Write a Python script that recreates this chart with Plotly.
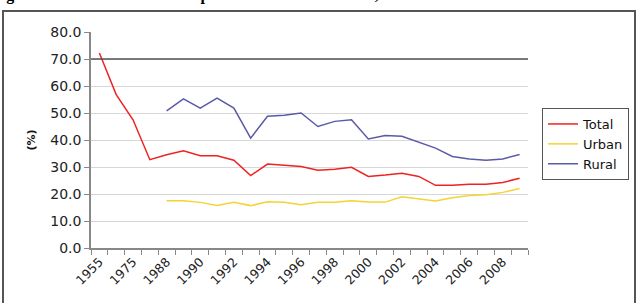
import plotly.graph_objects as go

years = ["1955", "1965", "1975", "1980", "1988", "1989", "1990", "1991", "1992", "1993",
         "1994", "1995", "1996", "1997", "1998", "1999", "2000", "2001", "2002", "2003",
         "2004", "2005", "2006", "2007", "2008", "2009"]
shown_labels = ["1955", "", "1975", "", "1988", "", "1990", "", "1992", "", "1994", "", "1996", "",
                "1998", "", "2000", "", "2002", "", "2004", "", "2006", "", "2008", ""]

total = [72.2, 56.8, 47.5, 32.7, 34.5, 36.0, 34.2, 34.2, 32.5, 26.8, 31.1, 30.7, 30.2, 28.8,
         29.2, 29.9, 26.5, 27.0, 27.7, 26.5, 23.2, 23.2, 23.6, 23.6, 24.3, 25.8]
urban = [None, None, None, None, 17.5, 17.5, 16.9, 15.7, 16.9, 15.7, 17.1, 16.9, 16.0, 16.9,
         16.9, 17.5, 17.0, 17.0, 19.0, 18.1, 17.4, 18.6, 19.4, 19.7, 20.6, 22.0]
rural = [None, None, None, None, 50.8, 55.2, 51.8, 55.5, 51.8, 40.7, 48.8, 49.2, 50.0, 45.0,
         46.9, 47.5, 40.4, 41.7, 41.4, 39.3, 37.0, 33.9, 33.0, 32.5, 33.0, 34.6]

W, H = 641, 303
L, R, T, B = 91, 113, 32, 55
pw, ph = W - L - R, H - T - B

def px(x):
    return (x - L) / pw

def py(y):
    return (H - B - y) / ph

SANS = "DejaVu Sans, Verdana, Arial"

fig = go.Figure()
fig.add_trace(go.Scatter(x=years, y=total, name="Total", mode="lines",
                         line=dict(color="#ee2222", width=1.5)))
fig.add_trace(go.Scatter(x=years, y=urban, name="Urban", mode="lines",
                         line=dict(color="#f5d335", width=1.5)))
fig.add_trace(go.Scatter(x=years, y=rural, name="Rural", mode="lines",
                         line=dict(color="#5a5aa8", width=1.5)))

fig.update_layout(
    width=W, height=H,
    margin=dict(l=L, r=R, t=T, b=B, pad=0),
    paper_bgcolor="white", plot_bgcolor="white",
    font=dict(family=SANS, size=13, color="#222"),
    showlegend=True,
    legend=dict(x=px(542), y=py(108), xanchor="left", yanchor="top",
                bordercolor="#555", borderwidth=1, bgcolor="white",
                font=dict(family=SANS, size=13, color="#111"), tracegroupgap=0,
                itemwidth=30),
    xaxis=dict(type="category", tickmode="array", tickvals=years, ticktext=shown_labels,
               tickson="boundaries", ticks="outside", ticklen=5, tickcolor="#888",
               showline=True, linecolor="#888", linewidth=1.5, tickangle=-45,
               showgrid=False, tickfont=dict(family=SANS, size=12.5, color="#222"),
               range=[-0.5, 25.5]),
    yaxis=dict(range=[0, 80], dtick=10, tickformat=".1f", ticks="outside", ticklen=5,
               tickcolor="#888", showline=True, linecolor="#888", linewidth=1.5,
               showgrid=True, gridcolor="#d8d8d8", gridwidth=1, zeroline=False,
               tickfont=dict(family=SANS, size=14, color="#222"),
               title=dict(text="<b>(%)</b>", font=dict(family=SANS, size=11, color="#111"),
                          standoff=12)),
)

# dark reference line at 70
fig.add_shape(type="line", xref="paper", yref="y", x0=0, x1=1, y0=70, y1=70,
              line=dict(color="#555", width=1.3))

# outer chart frame
fig.add_shape(type="rect", xref="paper", yref="paper",
              x0=px(3), x1=px(635), y0=py(320), y1=py(11),
              line=dict(color="#555", width=2), fillcolor="rgba(0,0,0,0)", layer="below")

# caption (mostly cut off at top, as in the source)
fig.add_annotation(text="<b>Figure 2.7 Labor Force Participation of Turkish Women, 1955-2009</b>",
                   xref="paper", yref="paper", x=px(-10), y=py(6),
                   xanchor="left", yanchor="bottom", showarrow=False,
                   font=dict(family="Liberation Serif, Times New Roman", size=16, color="#000"))

fig.write_html("out.html")
